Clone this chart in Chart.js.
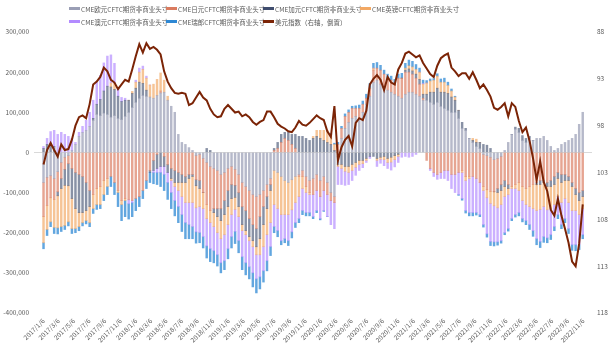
<!DOCTYPE html>
<html>
<head>
<meta charset="utf-8">
<script src="https://cdn.jsdelivr.net/npm/chart.js@4.4.1/dist/chart.umd.min.js"></script>
<style>
  html, body { margin: 0; padding: 0; background: #fff; }
  #wrap { position: relative; width: 612px; height: 346px; }
  #legend { position: absolute; left: 69px; top: 2px; width: 400px; font: 6.5px "Noto Sans CJK SC", sans-serif; color: #595959; }
  .item { display: inline-flex; align-items: center; width: 97px; height: 13px; white-space: nowrap; vertical-align: top; }
  .mark { width: 11px; height: 3px; margin-right: 1px; flex: none; }
</style>
</head>
<body>
<div id="wrap">
  <canvas id="chart" width="612" height="346"></canvas>
  <div id="legend"></div>
</div>
<script>
// net non-commercial positions, thousands of contracts, every two weeks from 2017/1/6
const eur = [
  -75, -62, -58, -65, -48, -25, -12, -8, 5, 20, 40, 50, 55, 65, 80, 95, 92, 98, 95, 88, 92, 85, 82, 90, 100, 112,
  125, 135, 142, 140, 138, 135, 142, 148, 150, 130, 115, 100, 45, 25, 20, 12, 5, -8, -5, -15, -25, -35, -40, -45, -55, -50,
  -40, -35, -42, -55, -75, -85, -95, -105, -110, -105, -95, -80, -65, -45, -50, -60, -70, -75, -68, -60, -55, -45, -60, -70, -65, -55,
  -70, -60, -75, -100, -110, -10, 35, 60, 75, 85, 90, 85, 100, 120, 140, 175, 180, 170, 165, 155, 150, 145, 140, 135, 145, 150,
  150, 145, 140, 130, 130, 125, 120, 125, 115, 110, 105, 100, 100, 85, 60, 55, 35, 25, 15, 10, -5, -8, -12, -18, -15, -10,
  5, 25, 45, 58, 50, 30, 25, 35, 30, 35, 35, 40, 30, 15, 5, 10, 20, 25, 30, 35, 45, 70, 100
];
const jpy = [
  -85, -70, -55, -52, -50, -40, -30, -20, -40, -50, -55, -60, -75, -95, -105, -90, -85, -70, -65, -60, -75, -95, -120, -115, -118, -120,
  -115, -110, -95, -70, -45, -20, -5, 5, -10, -30, -40, -45, -50, -55, -60, -55, -55, -60, -65, -85, -105, -110, -100, -95, -85, -70,
  -55, -45, -40, -45, -60, -60, -70, -75, -80, -55, -40, -30, -15, 5, 10, 25, 35, 30, 20, 10, -5, -15, -25, -30, -40, -40,
  -40, -35, -30, -20, -15, 20, 25, 30, 25, 25, 20, 25, 20, 15, 20, 30, 30, 35, 30, 30, 30, 25, 45, 50, 55, 50,
  45, 40, 30, 5, -20, -40, -50, -55, -50, -45, -45, -55, -55, -50, -45, -60, -60, -60, -65, -75, -80, -85, -85, -80, -75, -70,
  -70, -80, -85, -80, -75, -85, -90, -85, -80, -75, -70, -70, -75, -70, -60, -50, -55, -55, -60, -75, -90, -100, -95
];
const cad = [
  10, 20, 22, 15, -10, -25, -40, -55, -75, -90, -95, -90, -70, -40, 5, 25, 40, 55, 70, 75, 65, 55, 45, 40, 30, 35,
  35, 40, 30, 15, -5, -25, -35, -35, -25, -20, -25, -30, -25, -20, -15, -10, -5, -15, -20, 0, 10, 5, -10, -20, -30, -35,
  -40, -35, -30, -35, -45, -50, -45, -40, -45, -55, -45, -30, -15, 5, 15, 20, 15, 20, 25, 35, 40, 40, 35, 30, 35, 40,
  35, 30, 25, 20, 5, -20, -30, -35, -35, -30, -25, -20, -20, -15, -10, -10, -15, -12, -10, -15, -12, -8, -5, 0, 5, 8,
  8, 10, 12, 10, 15, 25, 30, 35, 35, 40, 42, 38, 30, 20, 15, 5, 0, 5, 10, 15, 20, 18, 10, 0, -10, -15,
  -15, -10, 0, 5, 10, 12, 10, 5, 0, -5, -10, -5, -10, -15, -20, -15, -20, -15, -10, -10, -15, -20, -15
];
const gbp = [
  -65, -60, -60, -70, -80, -95, -100, -90, -75, -50, -35, -25, -25, -40, -35, -40, -45, -35, -20, 10, 15, -5, -10, -5, 0, 5,
  15, 25, 35, 30, 30, 35, 40, 45, 30, 10, -5, -10, -20, -35, -50, -60, -65, -55, -45, -40, -35, -30, -35, -40, -45, -50,
  -45, -40, -30, -25, -15, -10, -10, -15, -20, -40, -55, -65, -80, -85, -90, -95, -85, -80, -75, -65, -50, -30, -15, -5, 5, 15,
  20, 25, 30, 25, 15, -5, -10, -12, -15, -15, -12, -10, -8, -5, 0, 5, -5, -5, -8, -10, -12, -10, -5, 0, 5, 8,
  10, 12, 18, 25, 28, 28, 30, 30, 25, 25, 20, 15, 8, 0, -5, -10, -5, 5, 8, 0, -10, -20, -30, -35, -38, -35,
  -25, -15, -5, -10, -20, -35, -40, -50, -60, -65, -62, -60, -58, -55, -50, -45, -50, -45, -55, -60, -40, -35, -30
];
const aud = [
  5, 15, 30, 40, 45, 50, 45, 40, 30, 5, 10, 15, 25, 35, 45, 55, 60, 70, 75, 70, 50, 20, 10, 5, -10, -5,
  5, 10, 8, 5, 0, -5, -10, -15, -20, -25, -30, -35, -40, -45, -50, -55, -60, -60, -65, -70, -68, -65, -60, -55, -60, -65,
  -60, -55, -55, -60, -65, -70, -65, -65, -60, -55, -60, -65, -60, -55, -55, -65, -60, -65, -55, -50, -55, -55, -50, -45, -55, -50,
  -55, -50, -55, -60, -65, -45, -40, -35, -30, -25, -20, -15, -10, -5, -5, 0, -15, -10, -15, -15, -20, -18, -15, -12, -10, -12,
  -10, -5, 0, 2, 0, -5, -10, -12, -15, -20, -25, -35, -45, -55, -65, -75, -85, -90, -85, -80, -85, -90, -95, -90, -85, -90,
  -90, -85, -75, -65, -55, -45, -40, -45, -55, -70, -80, -75, -70, -65, -55, -45, -55, -50, -65, -85, -85, -75, -65
];
const chf = [
  -15, -15, -12, -15, -15, -12, -10, -10, -12, -10, -10, -8, -8, -10, -12, -12, -10, -15, -20, -25, -30, -35, -40, -40, -38, -35,
  -30, -25, -20, -20, -25, -28, -30, -35, -40, -42, -40, -38, -40, -42, -40, -35, -30, -28, -25, -28, -30, -32, -30, -28, -25, -22,
  -25, -28, -30, -30, -32, -30, -30, -35, -35, -30, -28, -25, -22, -15, -15, -10, -10, -12, -15, -12, -10, -10, -8, -8, -5, -5,
  -3, -2, 0, 2, 3, 5, 5, 6, 6, 5, 6, 8, 8, 10, 12, 12, 14, 12, 10, 10, 10, 12, 10, 12, 12, 14,
  14, 12, 10, 8, 6, 5, 4, 6, 8, 10, 8, 5, 2, -2, -4, -6, -8, -8, -6, -5, -6, -8, -10, -10, -8, -6,
  -5, -6, -5, -6, -8, -8, -10, -12, -14, -15, -15, -14, -12, -12, -10, -10, -10, -10, -12, -14, -15, -12, -10
];
// US dollar index, same dates
const dxy = [
  102.15, 100.6, 99.85, 100.6, 101.3, 100.0, 100.6, 100.5, 99.5, 98.0, 97.1, 96.9, 97.2, 95.7, 93.6, 93.3, 92.8, 91.8, 92.2, 93.1, 93.4, 94.1, 93.6, 93.1, 93.3, 92.0,
  90.6, 89.3, 90.2, 89.2, 89.8, 89.6, 89.9, 90.4, 92.2, 93.3, 94.0, 94.5, 94.6, 94.5, 94.6, 95.8, 95.6, 95.0, 94.4, 95.0, 95.3, 96.2, 96.8, 97.1, 97.0, 96.2,
  95.8, 96.2, 96.6, 96.5, 97.0, 96.8, 97.1, 97.6, 97.9, 97.6, 97.4, 96.5, 96.5, 97.1, 97.8, 98.1, 98.3, 98.6, 98.7, 98.2, 97.5, 97.9, 98.0, 97.7, 97.3, 96.9,
  97.2, 97.4, 98.6, 99.2, 95.9, 101.7, 100.3, 99.5, 99.1, 100.2, 97.7, 97.2, 97.4, 96.4, 93.6, 93.0, 92.6, 93.1, 94.2, 92.8, 93.4, 93.6, 92.0, 91.3, 90.3, 90.1,
  90.4, 90.7, 90.5, 91.3, 91.9, 92.5, 92.8, 91.6, 90.8, 90.5, 90.3, 91.8, 92.2, 92.7, 92.4, 92.4, 93.0, 92.3, 93.1, 94.0, 93.6, 94.2, 94.9, 96.1, 96.3, 96.0,
  95.6, 97.0, 95.6, 96.0, 97.5, 98.7, 98.2, 99.6, 101.5, 103.8, 101.8, 104.0, 105.0, 107.0, 107.6, 105.8, 107.6, 109.0, 110.5, 112.5, 113.0, 110.6, 106.4
];

const tickLabels = [
  '2017/1/6', '2017/3/6', '2017/5/6', '2017/7/6', '2017/9/6', '2017/11/6',
  '2018/1/6', '2018/3/6', '2018/5/6', '2018/7/6', '2018/9/6', '2018/11/6',
  '2019/1/6', '2019/3/6', '2019/5/6', '2019/7/6', '2019/9/6', '2019/11/6',
  '2020/1/6', '2020/3/6', '2020/5/6', '2020/7/6', '2020/9/6', '2020/11/6',
  '2021/1/6', '2021/3/6', '2021/5/6', '2021/7/6', '2021/9/6', '2021/11/6',
  '2022/1/6', '2022/3/6', '2022/5/6', '2022/7/6', '2022/9/6', '2022/11/6'
];

const seriesNames = [
  'CME欧元CFTC期货非商业头寸', 'CME日元CFTC期货非商业头寸', 'CME加元CFTC期货非商业头寸',
  'CME英镑CFTC期货非商业头寸', 'CME澳元CFTC期货非商业头寸', 'CME瑞郎CFTC期货非商业头寸',
  '美元指数（右轴，倒置）'
];
const seriesColors = ['#9A9EB5', '#DA7B5F', '#3F4D6E', '#F2A864', '#B38BFF', '#2E88D4', '#7B2406'];
// thin weekly bars read lighter than the legend swatches
const barColors = [
  'rgba(154,158,181,0.72)', 'rgba(218,123,95,0.68)', 'rgba(63,77,110,0.62)',
  'rgba(242,168,100,0.68)', 'rgba(179,139,255,0.68)', 'rgba(46,136,212,0.75)'
];

const STEP = 14; // days between points
const dayOf = s => {
  const [y, m, d] = s.split('/').map(Number);
  return Math.round((Date.UTC(y, m - 1, d) - Date.UTC(2017, 0, 6)) / 86400000);
};
const tickDays = tickLabels.map(dayOf);
const tickText = {};
tickLabels.forEach((t, i) => { tickText[tickDays[i]] = t; });

const font = { family: '"Noto Sans CJK SC", sans-serif', size: 6.5 };
const tickColor = '#595959';

const bars = [eur, jpy, cad, gbp, aud, chf];
const datasets = bars.map((vals, s) => ({
  type: 'bar',
  label: seriesNames[s],
  data: vals.map((v, i) => ({ x: i * STEP, y: v })),
  backgroundColor: barColors[s],
  borderWidth: 0,
  barThickness: 1.8,
  yAxisID: 'y',
  order: 1
}));
datasets.push({
  type: 'line',
  label: seriesNames[6],
  data: dxy.map((v, i) => ({ x: i * STEP, y: v })),
  yAxisID: 'y1',
  borderColor: seriesColors[6],
  borderWidth: 2,
  pointRadius: 0,
  tension: 0,
  order: 0
});

// legend, laid out like the original
const legend = document.getElementById('legend');
seriesNames.forEach((name, i) => {
  const item = document.createElement('span');
  item.className = 'item';
  const mark = document.createElement('span');
  mark.className = 'mark';
  mark.style.background = seriesColors[i];
  item.appendChild(mark);
  item.appendChild(document.createTextNode(name));
  legend.appendChild(item);
});

new Chart(document.getElementById('chart'), {
  data: { datasets },
  options: {
    responsive: false,
    animation: false,
    layout: { padding: { top: 32, left: 0, right: 0, bottom: 0 } },
    plugins: { legend: { display: false }, tooltip: { enabled: false } },
    scales: {
      x: {
        type: 'linear',
        min: -7,
        max: 2134,
        stacked: true,
        grid: { display: false, drawTicks: false },
        border: { display: false },
        afterBuildTicks: s => { s.ticks = tickDays.map(v => ({ value: v })); },
        afterFit: s => { s.height = 33; },
        ticks: {
          autoSkip: false, minRotation: 45, maxRotation: 45, padding: 4,
          font, color: tickColor,
          callback: v => tickText[v] || ''
        }
      },
      y: {
        position: 'left',
        min: -400, max: 300,
        stacked: true,
        border: { display: false },
        grid: {
          drawTicks: false,
          color: c => (c.tick && c.tick.value === 0 ? '#d9d9d9' : 'rgba(0,0,0,0)')
        },
        afterFit: s => { s.width = 34; },
        ticks: {
          stepSize: 100, padding: 5, font, color: tickColor,
          callback: v => (v * 1000).toLocaleString('en-US')
        }
      },
      y1: {
        position: 'right',
        reverse: true,
        min: 88, max: 118,
        grid: { display: false, drawTicks: false },
        border: { display: false },
        afterFit: s => { s.width = 20; },
        ticks: { stepSize: 5, padding: 5, font, color: tickColor }
      }
    }
  }
});
</script>
</body>
</html>
